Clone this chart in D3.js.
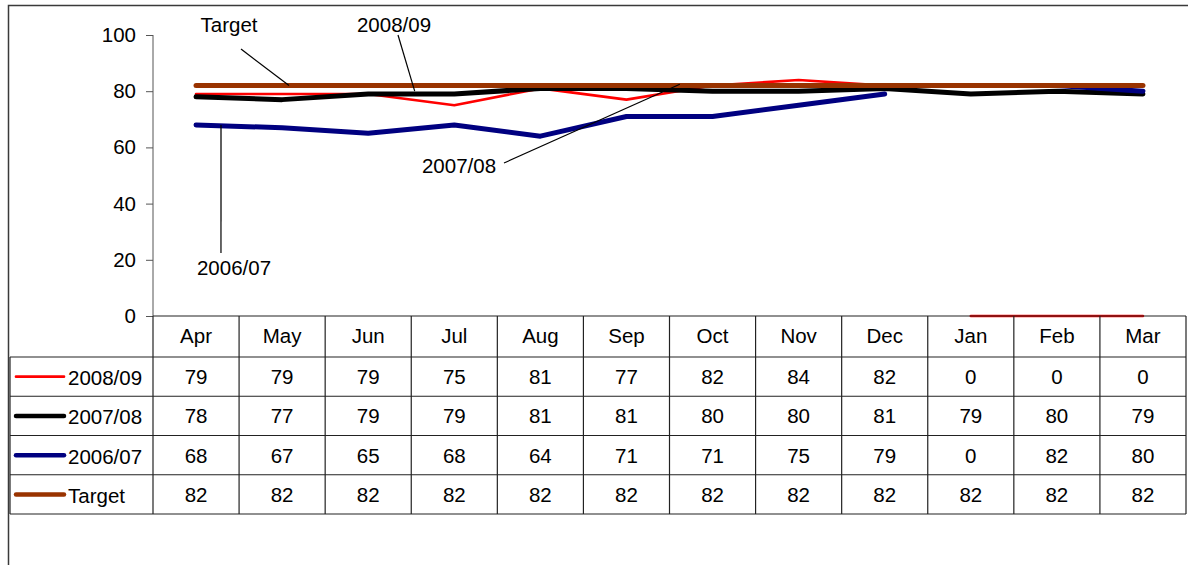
<!DOCTYPE html>
<html>
<head>
<meta charset="utf-8">
<script src="https://cdn.jsdelivr.net/npm/d3@7"></script>
<style>
  body { margin: 0; background: #fff; }
  svg text { font-family: "Liberation Sans", Arial, sans-serif; font-size: 20.5px; fill: #000; }
</style>
</head>
<body>
<svg class="chart" width="1188" height="565"></svg>
<script>
// month categories and the four series (same values as the data table)
var months = ["Apr", "May", "Jun", "Jul", "Aug", "Sep", "Oct", "Nov", "Dec", "Jan", "Feb", "Mar"];
var seriesNames = ["2008/09", "2007/08", "2006/07", "Target"];
var values0809 = [79, 79, 79, 75, 81, 77, 82, 84, 82, 0, 0, 0];
var values0708 = [78, 77, 79, 79, 81, 81, 80, 80, 81, 79, 80, 79];
var values0607 = [68, 67, 65, 68, 64, 71, 71, 75, 79, 0, 82, 80];
var valuesTarget = [82, 82, 82, 82, 82, 82, 82, 82, 82, 82, 82, 82];
// which stretches of months are joined by a line in the original (index ranges)
var runs0809 = [[0, 8], [9, 11]];
var runs0708 = [[0, 11]];
var runs0607 = [[0, 8], [10, 11]];
var runsTarget = [[0, 11]];
var yTicks = [0, 20, 40, 60, 80, 100];
// callout labels: anchor is [month position, value]
var callouts = [
    {text: "Target", lx: 229, ly: 24, sx: 241, sy: 49, anchor: [1.08, 82]},
    {text: "2008/09", lx: 394, ly: 24, sx: 398, sy: 35, anchor: [2.54, 80]},
    {text: "2006/07", lx: 234, ly: 267, sx: 221, sy: 253, anchor: [0.29, 68]},
    {text: "2007/08", lx: 459, ly: 165, sx: 504, sy: 163, anchor: [5.62, 82.5]}
];

var seriesValues = [values0809, values0708, values0607, valuesTarget];
var seriesRuns = [runs0809, runs0708, runs0607, runsTarget];
var colors = ["#ff0000", "#000000", "#000080", "#993300"];
var widths = [2.6, 5, 5, 5];

var chart = d3.select('.chart');

var x = d3.scaleBand()
    .domain(months)
    .range([153, 1186]);
var bw = x.bandwidth();
function cx(i) { return x(months[0]) + (i + 0.5) * bw; }

var y = d3.scaleLinear()
    .domain([0, 100])
    .range([316, 35]);

// outer chart border (only top and left inside the picture)
chart.append("rect")
    .attr("x", 8.5).attr("y", 5.5)
    .attr("width", 1400).attr("height", 800)
    .style("fill", "none")
    .style("stroke", "#3a3a3a")
    .style("stroke-width", "1.5px");

// y axis
var yAxis = d3.axisLeft(y)
    .tickValues(yTicks)
    .tickSize(7)
    .tickPadding(10);

var yg = chart.append("g")
    .attr("transform", "translate(153,0)")
    .call(yAxis);
yg.select(".domain").style("stroke", "#555").attr("d", "M0," + y(100) + "V" + y(0));
yg.selectAll(".tick line").style("stroke", "#555");
yg.selectAll("text").attr("fill", "#000").style("font-size", "20.5px")
    .style("font-family", '"Liberation Sans", Arial, sans-serif');

// series lines
var line = d3.line()
    .x(function(d) { return cx(d[0]); })
    .y(function(d) { return y(d[1]); });

for (var s = 0; s < seriesValues.length; s++) {
    for (var r = 0; r < seriesRuns[s].length; r++) {
        var run = seriesRuns[s][r];
        var pts = [];
        for (var i = run[0]; i <= run[1]; i++) {
            pts.push([i, seriesValues[s][i]]);
        }
        chart.append("path")
            .datum(pts)
            .attr("d", line)
            .style("fill", "none")
            .style("stroke", colors[s])
            .style("stroke-width", widths[s] + "px")
            .style("stroke-linecap", "round")
            .style("stroke-linejoin", "round");
    }
}

// callouts with leader lines
callouts.forEach(function(c) {
    chart.append("line")
        .attr("x1", c.sx).attr("y1", c.sy)
        .attr("x2", cx(c.anchor[0])).attr("y2", y(c.anchor[1]))
        .style("stroke", "#000")
        .style("stroke-width", "1.2px");
    chart.append("text")
        .attr("x", c.lx).attr("y", c.ly)
        .attr("text-anchor", "middle")
        .attr("dominant-baseline", "central")
        .text(c.text);
});

// data table
var headerTop = 316, headerBottom = 357;
var rowY = d3.scaleBand()
    .domain(seriesNames)
    .range([headerBottom, 514]);
var rh = rowY.bandwidth();
var tableLeft = 10, tableRight = x.range()[1];
var table = chart.append("g").style("stroke", "#222").style("stroke-width", "1.2px");

// horizontal rules
table.append("line")
    .attr("x1", 153).attr("x2", tableRight)
    .attr("y1", headerTop).attr("y2", headerTop);
[headerBottom].concat(seriesNames.map(function(n) { return rowY(n) + rh; })).forEach(function(yy) {
    table.append("line")
        .attr("x1", tableLeft).attr("x2", tableRight)
        .attr("y1", yy).attr("y2", yy);
});
// vertical rules
table.append("line")
    .attr("x1", tableLeft).attr("x2", tableLeft)
    .attr("y1", headerBottom).attr("y2", rowY.range()[1]);
months.concat(["end"]).forEach(function(m, i) {
    var xx = x(months[0]) + i * bw;
    table.append("line")
        .attr("x1", xx).attr("x2", xx)
        .attr("y1", headerTop).attr("y2", rowY.range()[1]);
});

// header labels
chart.selectAll(".mlabel")
    .data(months)
    .enter().append("text")
    .attr("x", function(d, i) { return cx(i); })
    .attr("y", (headerTop + headerBottom) / 2 - 1)
    .attr("text-anchor", "middle")
    .attr("dominant-baseline", "central")
    .text(function(d) { return d; });

// rows: legend key + values
seriesNames.forEach(function(name, s) {
    var yc = rowY(name) + rh / 2;
    chart.append("line")
        .attr("x1", 16).attr("x2", 64)
        .attr("y1", yc).attr("y2", yc)
        .style("stroke", colors[s])
        .style("stroke-width", (s == 0 ? 2.6 : 4.5) + "px")
        .style("stroke-linecap", "round");
    chart.append("text")
        .attr("x", 68).attr("y", yc + 1)
        .attr("dominant-baseline", "central")
        .text(name);
    chart.selectAll(".v" + s)
        .data(seriesValues[s])
        .enter().append("text")
        .attr("x", function(d, i) { return cx(i); })
        .attr("y", yc)
        .attr("text-anchor", "middle")
        .attr("dominant-baseline", "central")
        .text(function(d) { return d; });
});
</script>
</body>
</html>
